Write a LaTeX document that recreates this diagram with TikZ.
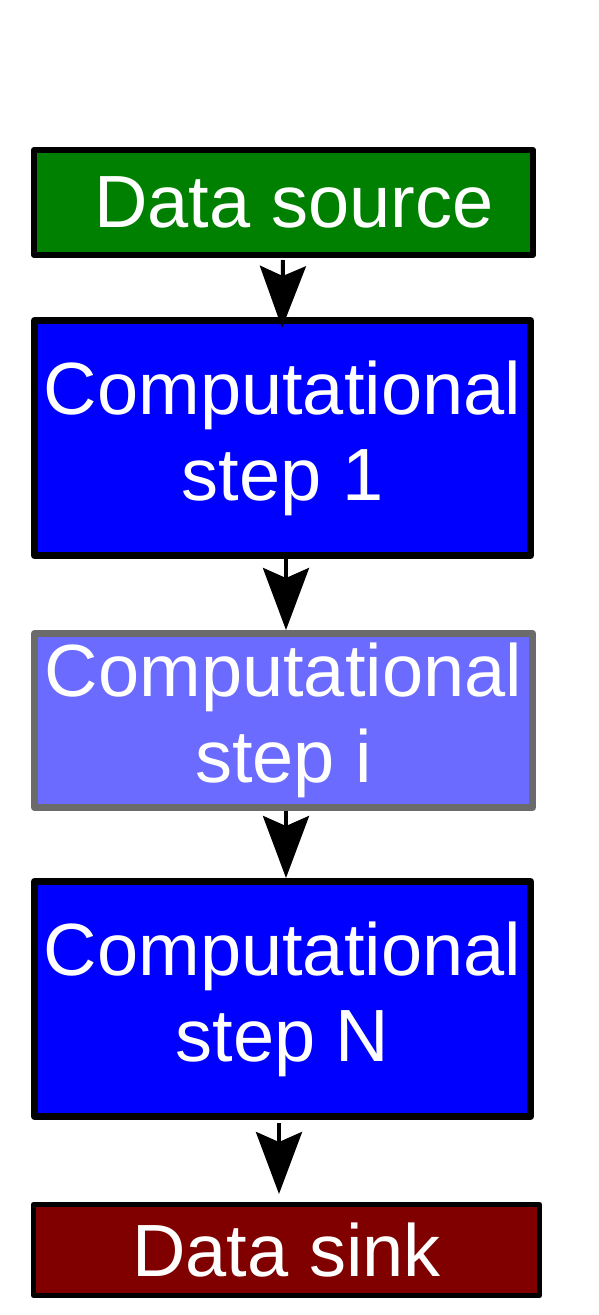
\documentclass[tikz,border=0pt]{standalone}
\usepackage{fontspec}
\setmainfont{Liberation Sans}
\usetikzlibrary{positioning,arrows.meta}

\definecolor{srcgreen}{RGB}{0,128,0}
\definecolor{stepblue}{RGB}{0,0,255}
\definecolor{paleblue}{RGB}{107,107,255}
\definecolor{palegray}{RGB}{107,107,107}
\definecolor{sinkred}{RGB}{128,0,0}

\begin{document}
\begin{tikzpicture}[
    box/.style={draw=black, line width=7pt, line join=round, text=white, align=center,
        font=\fontsize{74}{86}\selectfont, inner sep=0pt},
    flow/.style={-{Stealth[length=62pt,width=46pt,inset=10pt]}, line width=4pt}
]
    \useasboundingbox (0,0) rectangle (598pt,-1315pt);

    \node[box, fill=srcgreen, line width=6pt, minimum width=499pt, minimum height=105pt,
        anchor=north west] (src) at (31pt,-147pt) {\ Data source};
    \node[box, fill=stepblue, minimum width=496pt, minimum height=235pt,
        below=59pt of src.south west, anchor=north west] (s1) {Computational\\step 1};
    \node[box, fill=paleblue, draw=palegray, minimum width=498pt, minimum height=174pt,
        below=71pt of s1.south west, anchor=north west] (si) {Computational\\step i};
    \node[box, fill=stepblue, minimum width=496pt, minimum height=235pt,
        below=67pt of si.south west, anchor=north west] (sN) {Computational\\step N};
    \node[box, fill=sinkred, line width=5pt, minimum width=506pt, minimum height=91pt,
        below=82pt of sN.south west, anchor=north west] (sink) {Data sink};

    \draw[flow] ([xshift=-0.5pt,yshift=-2pt]src.south) -- ([xshift=-0.5pt,yshift=-11pt]s1.north);
    \draw[flow] ([xshift=3.5pt]s1.south) -- ([xshift=2.5pt]si.north);
    \draw[flow] ([xshift=2.5pt]si.south) -- ([xshift=3.5pt]sN.north);
    \draw[flow] ([xshift=-3.5pt,yshift=-3pt]sN.south) -- ([xshift=-7.5pt,yshift=8pt]sink.north);
\end{tikzpicture}
\end{document}
